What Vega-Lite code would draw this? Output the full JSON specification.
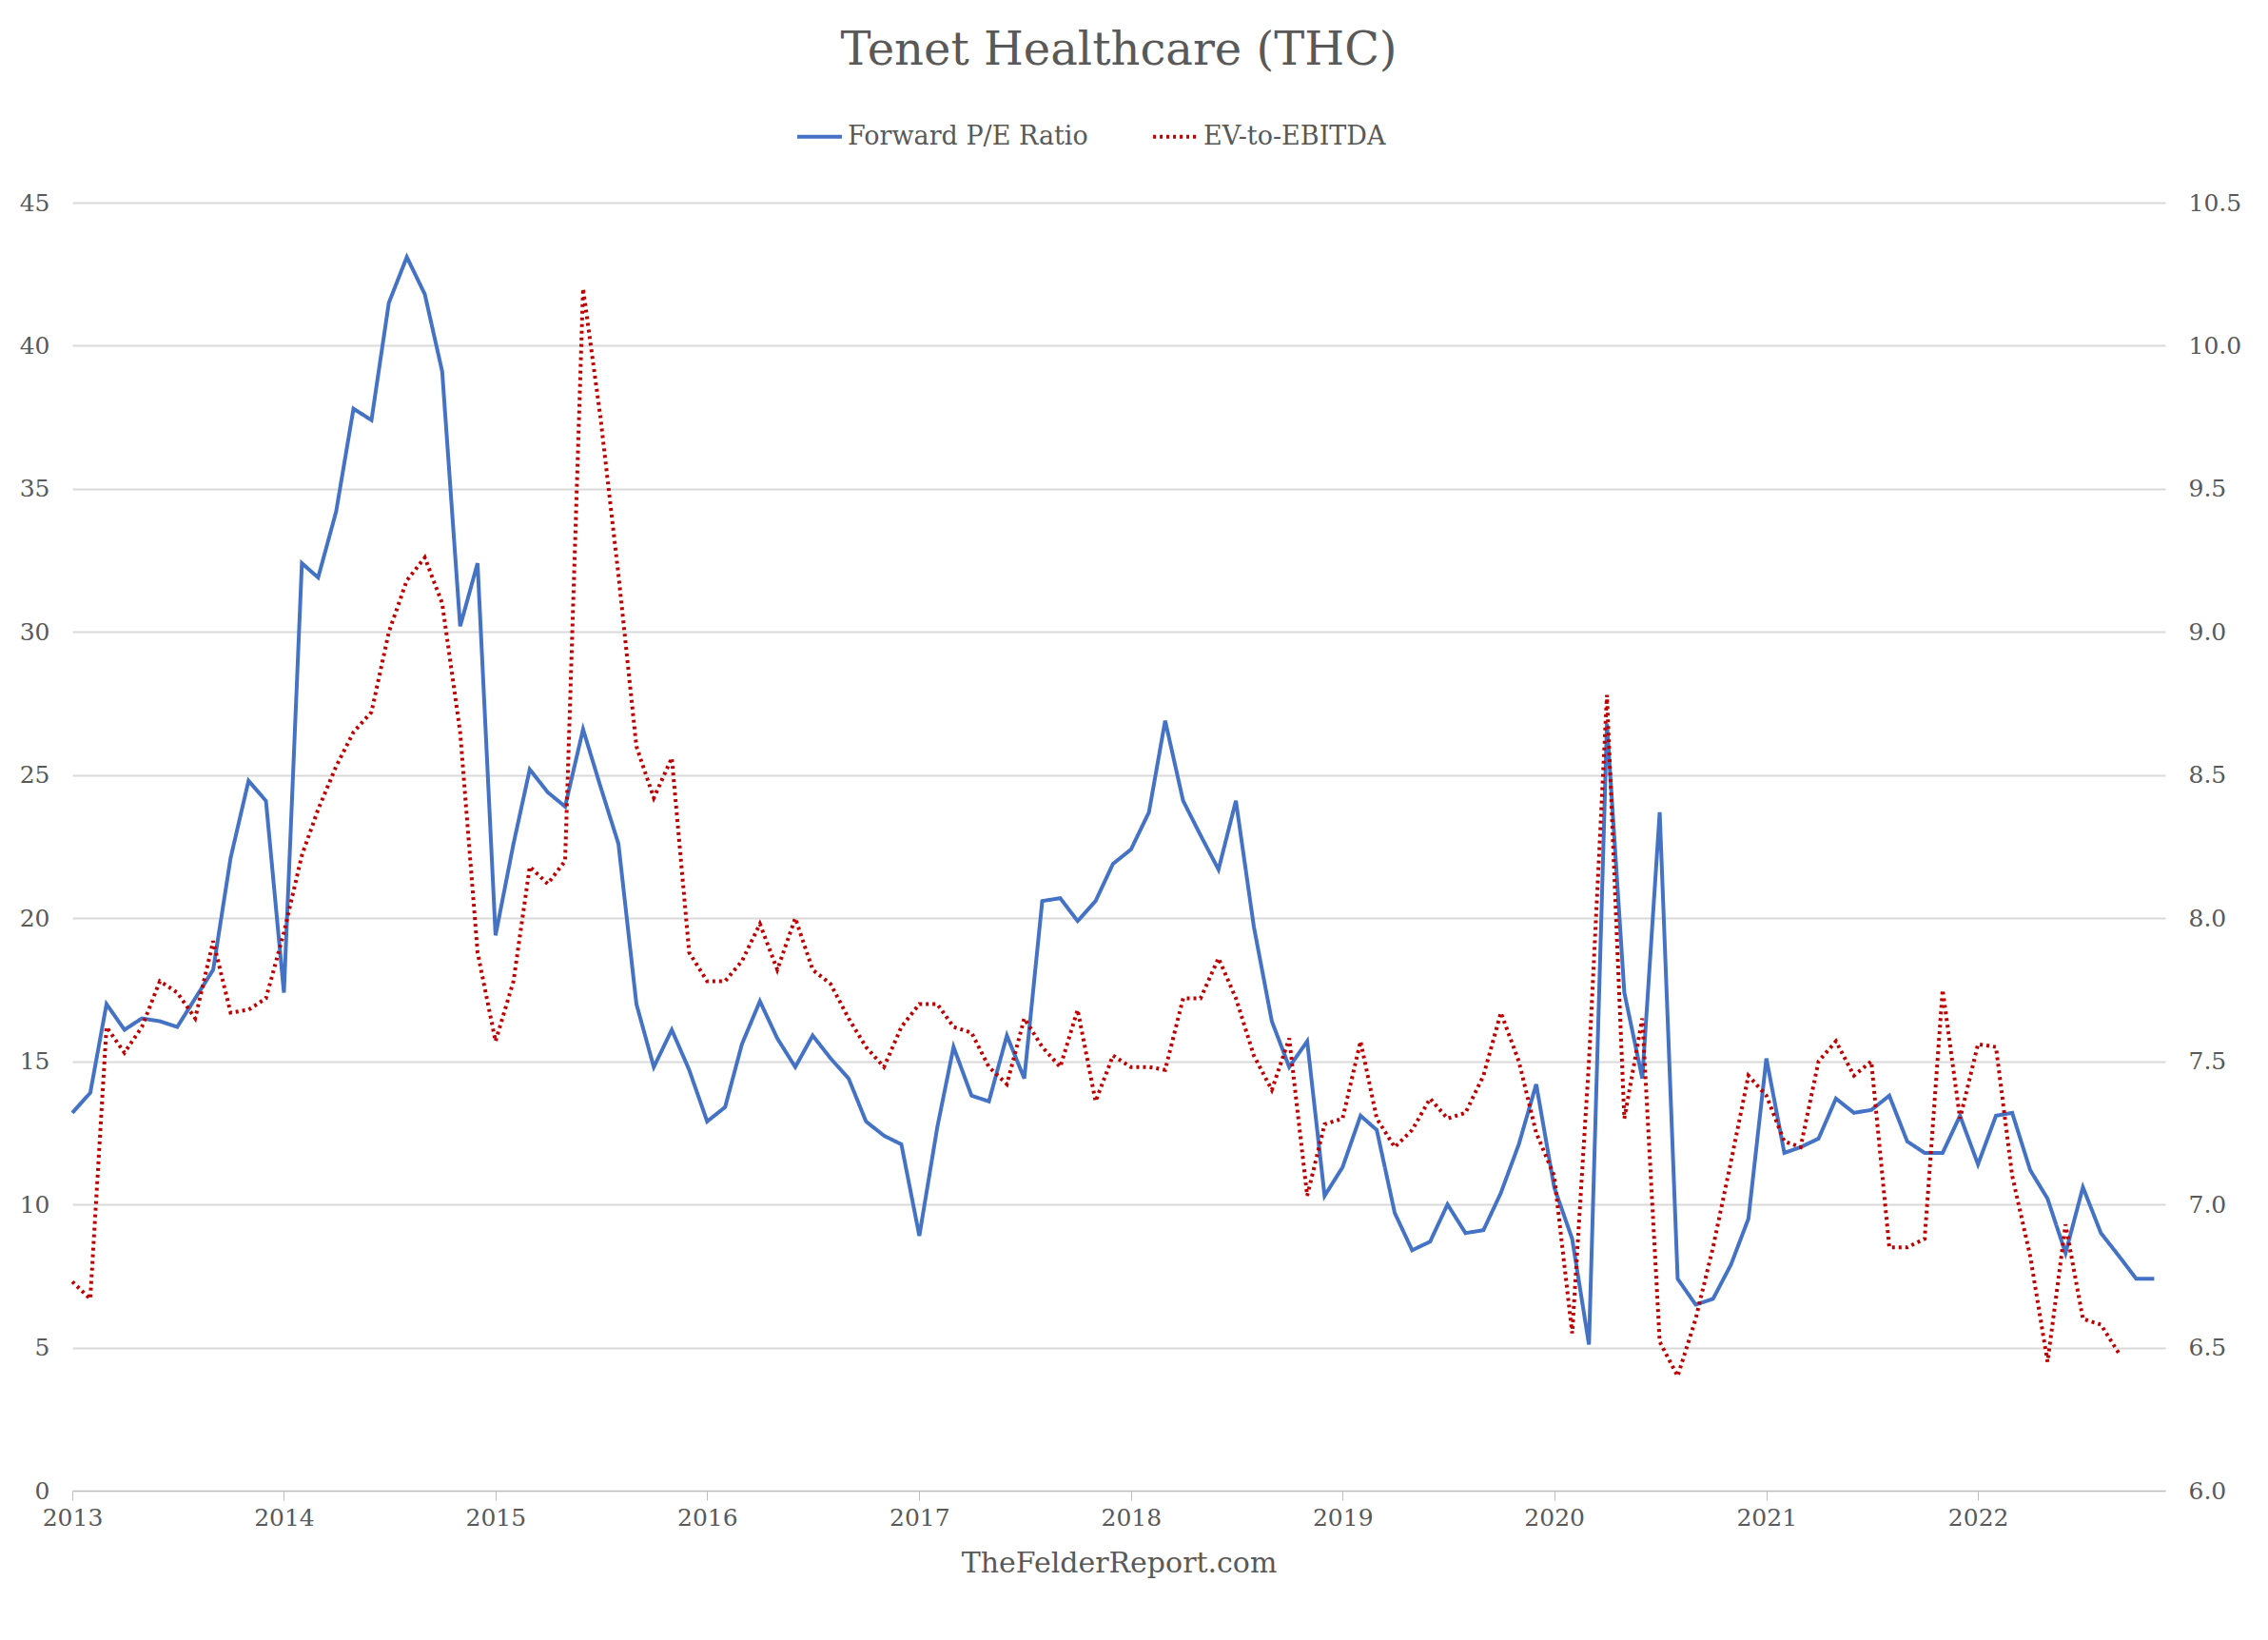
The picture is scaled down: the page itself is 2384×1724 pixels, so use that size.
{
  "$schema": "https://vega.github.io/schema/vega-lite/v6.json",
  "width": 2200,
  "height": 1354,
  "padding": {"left": 20, "top": 30, "right": 20, "bottom": 10},
  "background": "white",
  "config": {
    "font": "DejaVu Serif",
    "view": {"stroke": null},
    "axis": {"labelFont": "DejaVu Serif", "labelFontSize": 25, "labelColor": "#595959", "titleColor": "#595959"},
    "legend": {"labelFont": "DejaVu Serif", "labelFontSize": 27, "labelColor": "#595959", "labelLimit": 0, "orient": "none", "legendX": 760, "legendY": -95, "direction": "horizontal", "symbolSize": 2200, "symbolStrokeWidth": 4, "columnPadding": 60}
  },
  "title": {"text": "Tenet Healthcare (THC)", "fontSize": 48, "font": "DejaVu Serif", "fontWeight": "normal", "color": "#595959", "offset": 40},
  "data": {"values": [
    {"date":"2013-01-01","pe":13.2,"ev":6.73},{"date":"2013-02-01","pe":13.9,"ev":6.67},{"date":"2013-03-01","pe":17.0,"ev":7.62},{"date":"2013-04-01","pe":16.1,"ev":7.53},{"date":"2013-05-01","pe":16.5,"ev":7.62},{"date":"2013-06-01","pe":16.4,"ev":7.78},{"date":"2013-07-01","pe":16.2,"ev":7.74},{"date":"2013-08-01","pe":17.2,"ev":7.65},{"date":"2013-09-01","pe":18.2,"ev":7.92},{"date":"2013-10-01","pe":22.1,"ev":7.67},{"date":"2013-11-01","pe":24.8,"ev":7.68},{"date":"2013-12-01","pe":24.1,"ev":7.72},
    {"date":"2014-01-01","pe":17.4,"ev":7.95},{"date":"2014-02-01","pe":32.4,"ev":8.22},{"date":"2014-03-01","pe":31.9,"ev":8.38},{"date":"2014-04-01","pe":34.2,"ev":8.53},{"date":"2014-05-01","pe":37.8,"ev":8.65},{"date":"2014-06-01","pe":37.4,"ev":8.72},{"date":"2014-07-01","pe":41.5,"ev":9.0},{"date":"2014-08-01","pe":43.1,"ev":9.18},{"date":"2014-09-01","pe":41.8,"ev":9.26},{"date":"2014-10-01","pe":39.1,"ev":9.1},{"date":"2014-11-01","pe":30.2,"ev":8.65},{"date":"2014-12-01","pe":32.4,"ev":7.88},
    {"date":"2015-01-01","pe":19.4,"ev":7.57},{"date":"2015-02-01","pe":22.6,"ev":7.78},{"date":"2015-03-01","pe":25.2,"ev":8.18},{"date":"2015-04-01","pe":24.4,"ev":8.12},{"date":"2015-05-01","pe":23.9,"ev":8.2},{"date":"2015-06-01","pe":26.6,"ev":10.2},{"date":"2015-07-01","pe":24.6,"ev":9.75},{"date":"2015-08-01","pe":22.6,"ev":9.2},{"date":"2015-09-01","pe":17.0,"ev":8.6},{"date":"2015-10-01","pe":14.8,"ev":8.42},{"date":"2015-11-01","pe":16.1,"ev":8.56},{"date":"2015-12-01","pe":14.7,"ev":7.88},
    {"date":"2016-01-01","pe":12.9,"ev":7.78},{"date":"2016-02-01","pe":13.4,"ev":7.78},{"date":"2016-03-01","pe":15.6,"ev":7.85},{"date":"2016-04-01","pe":17.1,"ev":7.98},{"date":"2016-05-01","pe":15.8,"ev":7.82},{"date":"2016-06-01","pe":14.8,"ev":8.0},{"date":"2016-07-01","pe":15.9,"ev":7.82},{"date":"2016-08-01","pe":15.1,"ev":7.77},{"date":"2016-09-01","pe":14.4,"ev":7.65},{"date":"2016-10-01","pe":12.9,"ev":7.55},{"date":"2016-11-01","pe":12.4,"ev":7.48},{"date":"2016-12-01","pe":12.1,"ev":7.62},
    {"date":"2017-01-01","pe":8.9,"ev":7.7},{"date":"2017-02-01","pe":12.7,"ev":7.7},{"date":"2017-03-01","pe":15.5,"ev":7.62},{"date":"2017-04-01","pe":13.8,"ev":7.6},{"date":"2017-05-01","pe":13.6,"ev":7.48},{"date":"2017-06-01","pe":15.9,"ev":7.42},{"date":"2017-07-01","pe":14.4,"ev":7.65},{"date":"2017-08-01","pe":20.6,"ev":7.55},{"date":"2017-09-01","pe":20.7,"ev":7.48},{"date":"2017-10-01","pe":19.9,"ev":7.68},{"date":"2017-11-01","pe":20.6,"ev":7.36},{"date":"2017-12-01","pe":21.9,"ev":7.52},
    {"date":"2018-01-01","pe":22.4,"ev":7.48},{"date":"2018-02-01","pe":23.7,"ev":7.48},{"date":"2018-03-01","pe":26.9,"ev":7.47},{"date":"2018-04-01","pe":24.1,"ev":7.72},{"date":"2018-05-01","pe":22.9,"ev":7.72},{"date":"2018-06-01","pe":21.7,"ev":7.86},{"date":"2018-07-01","pe":24.1,"ev":7.72},{"date":"2018-08-01","pe":19.7,"ev":7.52},{"date":"2018-09-01","pe":16.4,"ev":7.4},{"date":"2018-10-01","pe":14.8,"ev":7.58},{"date":"2018-11-01","pe":15.7,"ev":7.03},{"date":"2018-12-01","pe":10.3,"ev":7.28},
    {"date":"2019-01-01","pe":11.3,"ev":7.3},{"date":"2019-02-01","pe":13.1,"ev":7.57},{"date":"2019-03-01","pe":12.6,"ev":7.3},{"date":"2019-04-01","pe":9.7,"ev":7.2},{"date":"2019-05-01","pe":8.4,"ev":7.26},{"date":"2019-06-01","pe":8.7,"ev":7.37},{"date":"2019-07-01","pe":10.0,"ev":7.3},{"date":"2019-08-01","pe":9.0,"ev":7.32},{"date":"2019-09-01","pe":9.1,"ev":7.45},{"date":"2019-10-01","pe":10.4,"ev":7.67},{"date":"2019-11-01","pe":12.1,"ev":7.5},{"date":"2019-12-01","pe":14.2,"ev":7.25},
    {"date":"2020-01-01","pe":10.6,"ev":7.1},{"date":"2020-02-01","pe":8.8,"ev":6.55},{"date":"2020-03-01","pe":5.1,"ev":7.5},{"date":"2020-04-01","pe":26.8,"ev":8.78},{"date":"2020-05-01","pe":17.4,"ev":7.3},{"date":"2020-06-01","pe":14.4,"ev":7.65},{"date":"2020-07-01","pe":23.7,"ev":6.52},{"date":"2020-08-01","pe":7.4,"ev":6.4},{"date":"2020-09-01","pe":6.5,"ev":6.6},{"date":"2020-10-01","pe":6.7,"ev":6.85},{"date":"2020-11-01","pe":7.9,"ev":7.15},{"date":"2020-12-01","pe":9.5,"ev":7.45},
    {"date":"2021-01-01","pe":15.1,"ev":7.38},{"date":"2021-02-01","pe":11.8,"ev":7.22},{"date":"2021-03-01","pe":12.0,"ev":7.2},{"date":"2021-04-01","pe":12.3,"ev":7.5},{"date":"2021-05-01","pe":13.7,"ev":7.57},{"date":"2021-06-01","pe":13.2,"ev":7.45},{"date":"2021-07-01","pe":13.3,"ev":7.5},{"date":"2021-08-01","pe":13.8,"ev":6.85},{"date":"2021-09-01","pe":12.2,"ev":6.85},{"date":"2021-10-01","pe":11.8,"ev":6.88},{"date":"2021-11-01","pe":11.8,"ev":7.75},{"date":"2021-12-01","pe":13.1,"ev":7.3},
    {"date":"2022-01-01","pe":11.4,"ev":7.56},{"date":"2022-02-01","pe":13.1,"ev":7.55},{"date":"2022-03-01","pe":13.2,"ev":7.1},{"date":"2022-04-01","pe":11.2,"ev":6.82},{"date":"2022-05-01","pe":10.2,"ev":6.45},{"date":"2022-06-01","pe":8.3,"ev":6.93},{"date":"2022-07-01","pe":10.6,"ev":6.6},{"date":"2022-08-01","pe":9.0,"ev":6.58},{"date":"2022-09-01","pe":8.2,"ev":6.48},{"date":"2022-10-01","pe":7.4,"ev":null},{"date":"2022-11-01","pe":7.4,"ev":null}
  ]},
  "encoding": {
    "x": {"field": "date", "type": "temporal",
      "scale": {"domain": ["2013-01-01", "2022-11-20"]},
      "axis": {"title": "TheFelderReport.com", "titleFontSize": 30, "titleFontWeight": "normal", "titleFont": "DejaVu Serif", "titlePadding": 20,
        "format": "%Y", "tickCount": {"interval": "year", "step": 1}, "labelAlign": "center", "grid": false, "domainColor": "#bfbfbf", "tickColor": "#bfbfbf", "tickSize": 10, "labelPadding": 6}}
  },
  "layer": [
    {
      "mark": {"type": "line", "strokeWidth": 4},
      "encoding": {
        "y": {"field": "pe", "type": "quantitative", "scale": {"domain": [0, 45]},
          "axis": {"title": null, "values": [0,5,10,15,20,25,30,35,40,45], "gridColor": "#d9d9d9", "gridWidth": 2, "domain": false, "ticks": false, "labelPadding": 24}},
        "color": {"datum": "Forward P/E Ratio", "type": "nominal", "title": null,
          "scale": {"domain": ["Forward P/E Ratio", "EV-to-EBITDA"], "range": ["#4472c4", "#c00000"]}},
        "strokeDash": {"datum": "Forward P/E Ratio", "type": "nominal", "title": null,
          "scale": {"domain": ["Forward P/E Ratio", "EV-to-EBITDA"], "range": [[1, 0], [3, 4]]}}
      }
    },
    {
      "mark": {"type": "line", "strokeWidth": 4},
      "encoding": {
        "y": {"field": "ev", "type": "quantitative", "scale": {"domain": [6, 10.5]},
          "axis": {"title": null, "orient": "right", "format": ".1f", "values": [6,6.5,7,7.5,8,8.5,9,9.5,10,10.5], "grid": false, "domain": false, "ticks": false, "labelPadding": 24}},
        "color": {"datum": "EV-to-EBITDA", "type": "nominal", "title": null},
        "strokeDash": {"datum": "EV-to-EBITDA", "type": "nominal", "title": null}
      }
    }
  ],
  "resolve": {"scale": {"y": "independent"}, "axis": {"y": "independent"}}
}
